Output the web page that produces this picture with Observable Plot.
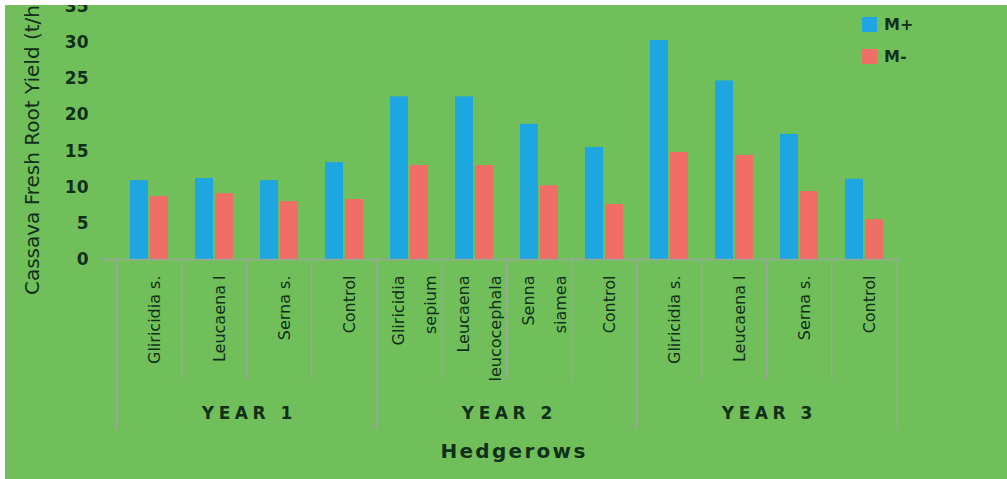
<!DOCTYPE html>
<html>
<head>
<meta charset="utf-8">
<script src="https://cdn.jsdelivr.net/npm/d3@7"></script>
<script src="https://cdn.jsdelivr.net/npm/@observablehq/plot@0.6"></script>
<style>
  html, body { margin: 0; padding: 0; background: #ffffff; }
  #wrap { position: absolute; left: 5px; top: 5px; width: 1002px; height: 474px; overflow: hidden; background: #71bf5a; font-family: "DejaVu Sans", sans-serif; }
  #wrap svg { background: transparent; overflow: hidden; }
  #legend { position: absolute; left: 857px; top: 10px; }
  #legend .lg-swatches { font: bold 16px "DejaVu Sans", sans-serif; color: #10301a; }
  #legend .lg-swatch { padding-bottom: 13px; }
  #legend .lg-swatch svg { margin-right: 7px; }
  g[aria-description="year-label"] text { letter-spacing: 4.5px; }
  g[aria-description="x-title"] text { letter-spacing: 2.3px; }
</style>
</head>
<body>
<div id="wrap"><div id="chart"></div><div id="legend"></div></div>
<script>
// ---- data ----
const categories = ["Gliricidia s.", "Leucaena l", "Serna s.", "Control",
                    "Gliricidia\nsepium", "Leucaena\nleucocephala", "Senna\nsiamea", "Control",
                    "Gliricidia s.", "Leucaena l", "Serna s.", "Control"];
const categoryYears = ["YEAR 1", "YEAR 1", "YEAR 1", "YEAR 1",
                       "YEAR 2", "YEAR 2", "YEAR 2", "YEAR 2",
                       "YEAR 3", "YEAR 3", "YEAR 3", "YEAR 3"];
const yearLabels = ["YEAR 1", "YEAR 2", "YEAR 3"];
const series = ["M+", "M-"];
const mPlus  = [10.9, 11.2, 10.9, 13.4, 22.5, 22.5, 18.7, 15.5, 30.3, 24.7, 17.3, 11.1];
const mMinus = [8.7, 9.1, 8.0, 8.3, 13.0, 13.0, 10.2, 7.6, 14.8, 14.4, 9.4, 5.5];
const yTicks = [0, 5, 10, 15, 20, 25, 30, 35];
const yTitle = "Cassava Fresh Root Yield (t/ha)";
const xTitle = "Hedgerows";

// ---- derived table ----
const ids = categories.map((c, i) => `${categoryYears[i]}|${c}`);
const rows = [];
ids.forEach((id, i) => {
  rows.push({id, series: "M+", value: mPlus[i]});
  rows.push({id, series: "M-", value: mMinus[i]});
});
const yearStarts = ids.filter((id, i) => i === 0 || categoryYears[i] !== categoryYears[i - 1]);
const innerStarts = ids.filter((id, i) => !yearStarts.includes(id));
const yearMid = yearLabels.map(y => ({year: y, id: ids[categoryYears.indexOf(y) + 1]}));

// ---- layout ----
const W = 1002, H = 474;
const mL = 108, mR = 107, mT = 1, mB = 220;
const step = (W - mL - mR) / ids.length;
const bandFrac = 18 / step;
const pInner = 1 - bandFrac;
const textColor = "#10301a";
const sepColor = "#9aa89a";
const frameH = H - mT - mB;

const chart = Plot.plot({
  width: W, height: H,
  marginLeft: mL, marginRight: mR, marginTop: mT, marginBottom: mB,
  style: {background: "transparent", fontFamily: "DejaVu Sans, sans-serif", color: textColor},
  x: {type: "band", domain: ids, paddingInner: pInner, paddingOuter: pInner / 2},
  y: {domain: [0, 35]},
  color: {domain: series, range: ["#1da6df", "#ef6e66"]},
  marks: [
    // separators
    Plot.ruleX(innerStarts, {x: d => d, dx: -step / 2, insetTop: frameH, insetBottom: -121, stroke: sepColor, strokeWidth: 1.5}),
    Plot.ruleX(yearStarts, {x: d => d, dx: -step / 2, insetTop: frameH, insetBottom: -170, stroke: sepColor, strokeWidth: 1.5}),
    Plot.ruleX([ids[ids.length - 1]], {x: d => d, dx: step / 2, insetTop: frameH, insetBottom: -170, stroke: sepColor, strokeWidth: 1.5}),
    // bars
    Plot.barY(rows, {filter: d => d.series === "M+", x: "id", y: "value", fill: "series", dx: -10}),
    Plot.barY(rows, {filter: d => d.series === "M-", x: "id", y: "value", fill: "series", dx: 10}),
    Plot.ruleY([0], {stroke: sepColor, strokeWidth: 1.5, insetLeft: -13}),
    // axes
    Plot.axisY({ticks: yTicks, tickSize: 0, tickPadding: 25, fontSize: 17, fontWeight: "bold", fill: textColor, label: null}),
    Plot.axisX({tickSize: 0, tickPadding: 16, rotate: -90, textAnchor: "end", lineAnchor: "middle", lineHeight: 2.05,
                fontSize: 16, fill: textColor, label: null, tickFormat: d => d.split("|")[1]}),
    // year labels
    Plot.text(yearMid, {x: "id", text: "year", dx: step / 2 + 2, frameAnchor: "bottom", dy: 159,
                        fontSize: 17, fontWeight: "bold", fill: textColor, ariaDescription: "year-label"}),
    // titles
    Plot.text([xTitle], {text: d => d, frameAnchor: "bottom", dx: 7, dy: 198, fontSize: 20, fontWeight: "bold",
                         fill: textColor, ariaDescription: "x-title"}),
    Plot.text([yTitle], {text: d => d, frameAnchor: "left", textAnchor: "middle", rotate: -90, dx: -81, dy: 7, fontSize: 20,
                         fill: textColor, ariaDescription: "y-title"})
  ]
});
document.getElementById("chart").appendChild(chart);
const legend = chart.legend("color", {legend: "swatches", columns: 1, swatchSize: 15, className: "lg"});
document.getElementById("legend").appendChild(legend);
</script>
</body>
</html>
